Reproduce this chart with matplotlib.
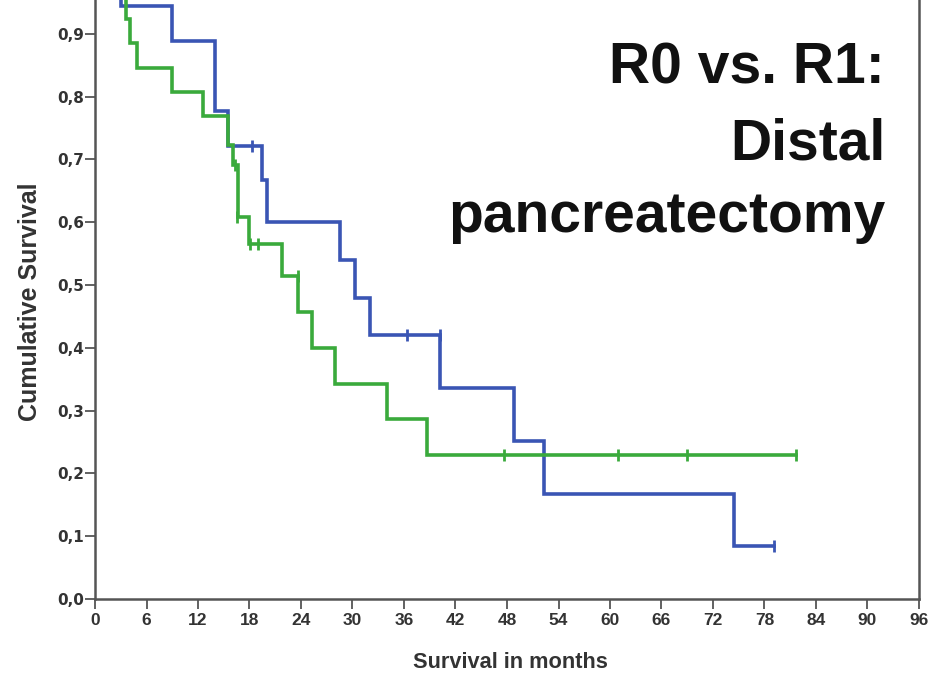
import matplotlib
matplotlib.use("Agg")
import matplotlib.pyplot as plt

# ---- data ----
r0_times = [0, 3.0, 9.0, 14.0, 15.5, 19.5, 20.0, 28.5, 30.3, 32.0, 40.2, 48.8, 52.3, 74.5]
r0_surv = [1.0, 0.944, 0.889, 0.778, 0.722, 0.667, 0.600, 0.540, 0.480, 0.420, 0.336, 0.252, 0.168, 0.084]
r0_end = 79.1
r0_cens_t = [18.3, 36.3, 40.2, 79.1]
r0_cens_s = [0.722, 0.420, 0.420, 0.084]

r1_times = [0, 3.2, 3.6, 4.1, 4.9, 9.0, 12.6, 15.5, 16.1, 16.7, 17.9, 21.8, 23.7, 25.3, 28.0, 34.0, 38.7]
r1_surv = [1.0, 0.962, 0.923, 0.885, 0.846, 0.808, 0.769, 0.723, 0.691, 0.608, 0.566, 0.514, 0.457, 0.400, 0.343, 0.286, 0.229]
r1_end = 81.7
r1_cens_t = [16.3, 16.6, 18.1, 19.0, 23.7, 47.7, 60.9, 69.0, 81.7]
r1_cens_s = [0.691, 0.608, 0.566, 0.566, 0.514, 0.229, 0.229, 0.229, 0.229]

x_ticks = list(range(0, 97, 6))
y_ticks = [0.0, 0.1, 0.2, 0.3, 0.4, 0.5, 0.6, 0.7, 0.8, 0.9]
y_tick_labels = ["0,0", "0,1", "0,2", "0,3", "0,4", "0,5", "0,6", "0,7", "0,8", "0,9"]

title_lines = ["R0 vs. R1:", "Distal", "pancreatectomy"]
xlabel = "Survival in months"
ylabel = "Cumulative Survival"

BLUE = "#3a55b4"
GREEN = "#3aaa3c"
AX = "#555555"

fig = plt.figure(figsize=(9.33, 6.74), dpi=100)
W, H = 933, 674
ax = fig.add_axes([95 / W, 75 / H, 824 / W, 599 / H])

ax.step(r0_times + [r0_end], r0_surv + [r0_surv[-1]], where="post", color=BLUE, lw=2.6, solid_joinstyle="miter")
ax.step(r1_times + [r1_end], r1_surv + [r1_surv[-1]], where="post", color=GREEN, lw=2.6, solid_joinstyle="miter")
ax.plot(r0_cens_t, r0_cens_s, linestyle="none", marker="|", ms=9, mew=2, color=BLUE)
ax.plot(r1_cens_t, r1_cens_s, linestyle="none", marker="|", ms=9, mew=2, color=GREEN)

ax.set_xlim(0, 96)
ax.set_ylim(0, 0.954)
ax.spines["top"].set_visible(False)
for s in ["left", "bottom", "right"]:
    ax.spines[s].set_color(AX)
    ax.spines[s].set_linewidth(1.8)

ax.set_xticks(x_ticks)
ax.set_xticklabels([str(t) for t in x_ticks], fontsize=12.5, fontweight="bold", family="Liberation Sans", color="#333333")
ax.set_yticks(y_ticks)
ax.set_yticklabels(y_tick_labels, fontsize=11, fontweight="bold", family="DejaVu Sans", color="#333333")
ax.tick_params(axis="both", direction="out", length=7, width=1.3, color=AX)
ax.tick_params(axis="y", pad=1)
ax.tick_params(axis="x", pad=3)

fig.text(510 / W, 1 - 662 / H, xlabel, ha="center", va="center", fontsize=15.7, fontweight="bold",
         family="Liberation Sans", color="#333333")
fig.text(30 / W, 1 - 302 / H, ylabel, ha="center", va="center", rotation=90, fontsize=18,
         fontweight="bold", family="Liberation Sans", color="#333333")

for line, yb in zip(title_lines, [83, 159, 232]):
    fig.text(885 / W, 1 - yb / H, line, ha="right", va="baseline", fontsize=41, fontweight="bold",
             family="Liberation Sans", color="#111111")

fig.savefig("out.png", dpi=100, facecolor="white")
